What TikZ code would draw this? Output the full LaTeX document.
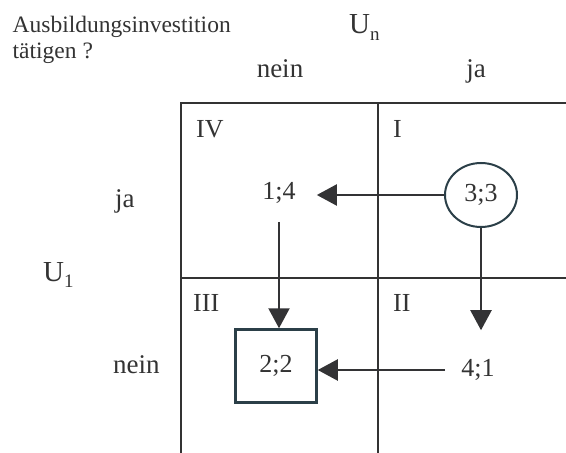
\documentclass[tikz,border=0pt]{standalone}
\usepackage{fontspec}
\setmainfont{Liberation Serif}
\usetikzlibrary{arrows.meta,shapes.geometric}
\definecolor{txt}{HTML}{333333}
\definecolor{ln}{HTML}{333335}
\definecolor{bx}{HTML}{2B3F48}
\begin{document}
\begin{tikzpicture}[x=1bp,y=-1bp,
  lbl/.style={font=\fontsize{26bp}{30bp}\selectfont, text=txt, inner sep=0pt},
  head/.style={font=\fontsize{27bp}{30bp}\selectfont, text=txt, inner sep=0pt},
  small/.style={font=\fontsize{23.5bp}{26bp}\selectfont, text=txt, inner sep=0pt, align=left},
  gridline/.style={draw=txt, line width=1.3bp},
  arr/.style={draw=ln, line width=2.2bp, -{Triangle[length=20bp,width=21bp]}},
]
\useasboundingbox (0,0) rectangle (566,453);
% grid
\draw[gridline] (181,453) -- (181,103) -- (566,103);
\draw[gridline] (378,103) -- (378,453);
\draw[gridline] (181,278) -- (566,278);
% header texts
\node[small, anchor=north west] (q) at (12.5,15.5) {Ausbildungsinvestition\\tätigen ?};
\node[head, anchor=base west, font=\fontsize{29bp}{30bp}\selectfont] (un) at (349,34) {U\raisebox{-7bp}{\fontsize{19bp}{20bp}\selectfont n}};
\node[head, anchor=base] (cn) at (280,78) {nein};
\node[head, anchor=base] (cj) at (476,78) {ja};
\node[head, anchor=base west] (rj) at (115,208) {ja};
\node[head, anchor=base west] (rn) at (113,373) {nein};
\node[head, anchor=base west, font=\fontsize{29bp}{30bp}\selectfont] (u1) at (43,282) {U\raisebox{-5bp}{\fontsize{19bp}{20bp}\selectfont 1}};
% quadrant numerals
\node[lbl, anchor=north west] (qIV) at (196,120) {IV};
\node[lbl, anchor=north west] (qI) at (393,120) {I};
\node[lbl, anchor=north west] (qIII) at (193,294) {III};
\node[lbl, anchor=north west] (qII) at (393,294) {II};
% payoffs
\node[lbl] (n14) at (279,193) {1;4};
\node[lbl, draw=bx, ellipse, line width=2bp, minimum width=72bp, minimum height=64bp] (n33) at (481,195) {3;3};
\node[lbl, draw=bx, rectangle, line width=2.5bp, minimum width=81bp, minimum height=73bp] (n22) at (276,366) {2;2};
\node[lbl] (n41) at (478,370) {4;1};
% arrows
\draw[arr, shorten >=21bp] (n33.west) -- (n33.west -| n14.east);
\draw[arr, shorten <=18bp] (n14.south) -- (n14.south |- n22.north);
\draw[arr, shorten >=29bp] (n33.south) -- (n33.south |- n41.north);
\draw[arr, shorten <=16bp] (n41.west) -- (n41.west -| n22.east);
\end{tikzpicture}
\end{document}
